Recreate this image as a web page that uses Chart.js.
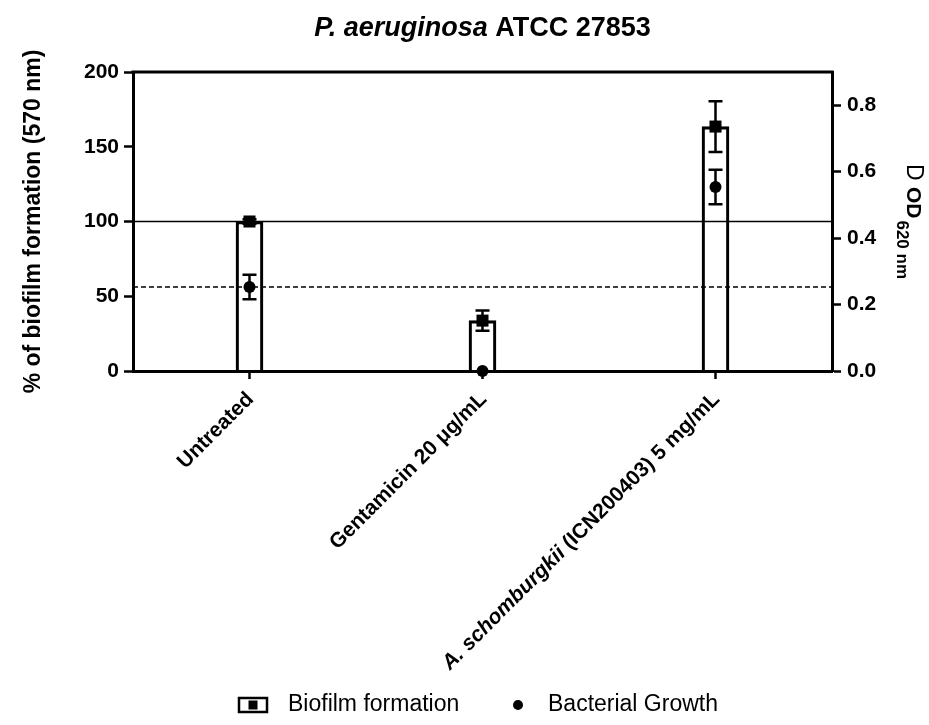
<!DOCTYPE html>
<html><head><meta charset="utf-8">
<script src="https://cdn.jsdelivr.net/npm/chart.js@4/dist/chart.umd.min.js"></script>
<style>html,body{margin:0;padding:0;background:#fff;} canvas{display:block;}</style>
</head><body>
<canvas id="c" width="929" height="725"></canvas>
<script>
// ---- data ----
const categories = ["Untreated", "Gentamicin 20 μg/mL", "A. schomburgkii (ICN200403) 5 mg/mL"];
const categoryItalicPrefix = ["", "", "A. schomburgkii"];
const biofilmPercent = [100, 33.7, 163.5];
const biofilmError = [1.5, 6.7, 17];
const growthOD = [0.253, 0, 0.554];
const growthError = [0.037, 0, 0.052];
const leftTicks = [0, 50, 100, 150, 200];
const rightTicks = [0, 0.2, 0.4, 0.6, 0.8];
const referenceBiofilm = 100;
const referenceGrowth = 0.253;
const titleItalic = "P. aeruginosa";
const titleRest = " ATCC 27853";
const leftAxisTitle = "% of biofilm formation (570 nm)";
const rightAxisTitleSymbol = "D";
const rightAxisTitleMain = "OD";
const rightAxisTitleSub = "620 nm";
const legendLabels = ["Biofilm formation", "Bacterial Growth"];

const FONT = "'Liberation Sans', Arial, Helvetica, sans-serif";

const customPlugin = {
  id: 'custom',
  afterDatasetsDraw(chart) {
    const ctx = chart.ctx, ca = chart.chartArea;
    const x = chart.scales.x, y = chart.scales.y, y1 = chart.scales.y1;
    ctx.save();
    ctx.strokeStyle = '#000';
    // reference lines
    ctx.lineWidth = 1.5;
    let py = y.getPixelForValue(referenceBiofilm);
    ctx.beginPath(); ctx.moveTo(ca.left, py); ctx.lineTo(ca.right, py); ctx.stroke();
    py = y1.getPixelForValue(referenceGrowth);
    ctx.setLineDash([5, 3]);
    ctx.beginPath(); ctx.moveTo(ca.left, py); ctx.lineTo(ca.right, py); ctx.stroke();
    ctx.setLineDash([]);
    // error bars
    ctx.lineWidth = 2.5;
    const cap = 7;
    function eb(px, yHi, yLo) {
      ctx.beginPath();
      ctx.moveTo(px, yHi); ctx.lineTo(px, yLo);
      ctx.moveTo(px - cap, yHi); ctx.lineTo(px + cap, yHi);
      ctx.moveTo(px - cap, yLo); ctx.lineTo(px + cap, yLo);
      ctx.stroke();
    }
    categories.forEach((c, i) => {
      const px = x.getPixelForValue(i);
      if (biofilmError[i] > 0) eb(px, y.getPixelForValue(biofilmPercent[i] + biofilmError[i]), y.getPixelForValue(biofilmPercent[i] - biofilmError[i]));
      if (growthError[i] > 0) eb(px, y1.getPixelForValue(growthOD[i] + growthError[i]), y1.getPixelForValue(growthOD[i] - growthError[i]));
    });
    // top border
    ctx.lineWidth = 3;
    ctx.beginPath(); ctx.moveTo(ca.left - 1.5, ca.top); ctx.lineTo(ca.right + 1.5, ca.top); ctx.stroke();
    ctx.restore();
  },
  afterDraw(chart) {
    const ctx = chart.ctx, ca = chart.chartArea;
    const x = chart.scales.x;
    ctx.save();
    ctx.fillStyle = '#000';
    // title
    ctx.textBaseline = 'alphabetic';
    ctx.font = "italic bold 27px " + FONT;
    const w1 = ctx.measureText(titleItalic).width;
    ctx.font = "bold 27px " + FONT;
    const w2 = ctx.measureText(titleRest).width;
    const cx = (ca.left + ca.right) / 2;
    let sx = cx - (w1 + w2) / 2;
    ctx.textAlign = 'left';
    ctx.font = "italic bold 27px " + FONT;
    ctx.fillText(titleItalic, sx, 36);
    ctx.font = "bold 27px " + FONT;
    ctx.fillText(titleRest, sx + w1, 36);

    // x labels rotated
    categories.forEach((lab, i) => {
      const px = x.getPixelForValue(i);
      const pre = categoryItalicPrefix[i];
      const rest = lab.slice(pre.length);
      ctx.save();
      ctx.translate(px + 1, 396);
      ctx.rotate(-Math.PI / 4);
      ctx.textBaseline = 'middle';
      ctx.textAlign = 'left';
      ctx.font = "italic bold 21px " + FONT;
      const wa = pre ? ctx.measureText(pre).width : 0;
      ctx.font = "bold 21px " + FONT;
      const wb = ctx.measureText(rest).width;
      let tx = -(wa + wb);
      if (pre) { ctx.font = "italic bold 21px " + FONT; ctx.fillText(pre, tx, 0); }
      ctx.font = "bold 21px " + FONT;
      ctx.fillText(rest, tx + wa, 0);
      ctx.restore();
    });

    // right axis title (rotated, reading top to bottom)
    ctx.save();
    ctx.translate(907, (ca.top + ca.bottom) / 2);
    ctx.rotate(Math.PI / 2);
    ctx.textAlign = 'left';
    ctx.textBaseline = 'alphabetic';
    ctx.font = "23px " + FONT;
    const ws = ctx.measureText(rightAxisTitleSymbol + " ").width;
    ctx.font = "bold 21px " + FONT;
    const wm = ctx.measureText(rightAxisTitleMain).width;
    ctx.font = "bold 17px " + FONT;
    const wsub = ctx.measureText(rightAxisTitleSub).width;
    let rx = -(ws + wm + 2 + wsub) / 2;
    ctx.font = "23px " + FONT;
    ctx.fillText(rightAxisTitleSymbol + " ", rx, 0);
    ctx.font = "bold 21px " + FONT;
    ctx.fillText(rightAxisTitleMain, rx + ws, 0);
    ctx.font = "bold 17px " + FONT;
    ctx.fillText(rightAxisTitleSub, rx + ws + wm + 2, 10);
    ctx.restore();

    // legend
    const ly = 705;
    ctx.strokeStyle = '#000';
    ctx.lineWidth = 2.5;
    ctx.strokeRect(239, ly - 7, 28, 14);
    ctx.fillRect(248.5, ly - 4.5, 9, 9);
    ctx.font = "23px " + FONT;
    ctx.textBaseline = 'middle';
    ctx.textAlign = 'left';
    ctx.fillText(legendLabels[0], 288, ly);
    ctx.beginPath(); ctx.arc(518, ly, 5, 0, Math.PI * 2); ctx.fill();
    ctx.fillText(legendLabels[1], 548, ly);
    ctx.restore();
  }
};

new Chart(document.getElementById('c'), {
  data: {
    labels: categories,
    datasets: [
      {
        type: 'bar', label: legendLabels[0], data: biofilmPercent, yAxisID: 'y',
        backgroundColor: 'rgba(255,255,255,0)', borderColor: '#000', borderWidth: 2.5,
        barThickness: 27, order: 3
      },
      {
        type: 'line', label: legendLabels[0] + ' mean', data: biofilmPercent, yAxisID: 'y',
        showLine: false, pointStyle: 'rect', pointRadius: 8.5, pointBackgroundColor: '#000',
        pointBorderWidth: 0, clip: false, order: 2
      },
      {
        type: 'line', label: legendLabels[1], data: growthOD, yAxisID: 'y1',
        showLine: false, pointStyle: 'circle', pointRadius: 6, pointBackgroundColor: '#000',
        pointBorderWidth: 0, clip: false, order: 1
      }
    ]
  },
  options: {
    responsive: false,
    devicePixelRatio: 1,
    animation: false,
    layout: { padding: { top: 72, left: 0, right: 0, bottom: 0 } },
    plugins: { legend: { display: false }, tooltip: { enabled: false }, title: { display: false } },
    scales: {
      x: {
        type: 'category', offset: true,
        grid: { display: true, offset: false, drawOnChartArea: false, drawTicks: true, tickLength: 8, tickWidth: 2.5, color: '#000' },
        border: { display: true, color: '#000', width: 3 },
        ticks: { display: false },
        afterFit(s) { s.height = 725 - 371; }
      },
      y: {
        position: 'left', min: 0, max: 200,
        afterBuildTicks(s) { s.ticks = leftTicks.map(v => ({ value: v })); },
        afterFit(s) { s.width = 133; },
        grid: { display: true, drawOnChartArea: false, drawTicks: true, tickLength: 9, tickWidth: 2.5, color: '#000' },
        border: { display: true, color: '#000', width: 3 },
        ticks: { color: '#000', padding: 5, font: { family: FONT, size: 21, weight: 'bold' } },
        title: { display: true, text: leftAxisTitle, color: '#000', padding: { top: 20, bottom: 0 }, font: { family: FONT, size: 23, weight: 'bold' } }
      },
      y1: {
        position: 'right', min: 0, max: 0.9,
        afterBuildTicks(s) { s.ticks = rightTicks.map(v => ({ value: v })); },
        afterFit(s) { s.width = 929 - 832; },
        grid: { display: true, drawOnChartArea: false, drawTicks: true, tickLength: 9, tickWidth: 2.5, color: '#000' },
        border: { display: true, color: '#000', width: 3 },
        ticks: { color: '#000', padding: 6, font: { family: FONT, size: 21, weight: 'bold' }, callback: v => Number(v).toFixed(1) }
      }
    }
  },
  plugins: [customPlugin]
});
</script>
</body></html>
